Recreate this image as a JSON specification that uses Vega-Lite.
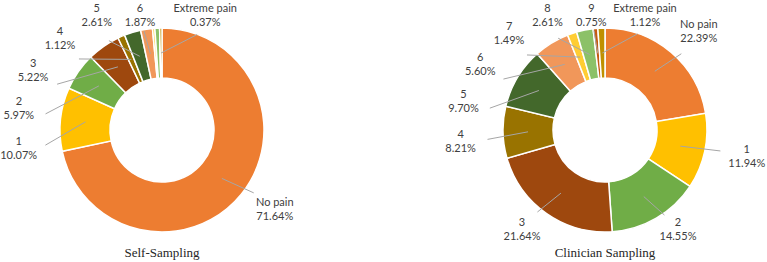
{
  "$schema": "https://vega.github.io/schema/vega-lite/v6.json",
  "padding": 0,
  "spacing": 119,
  "background": "white",
  "config": {"view": {"stroke": null}},
  "data": {
    "values": [
      {"chart": "Self-Sampling", "level": "No pain", "pct": 71.64},
      {"chart": "Self-Sampling", "level": "1", "pct": 10.07},
      {"chart": "Self-Sampling", "level": "2", "pct": 5.97},
      {"chart": "Self-Sampling", "level": "3", "pct": 5.22},
      {"chart": "Self-Sampling", "level": "4", "pct": 1.12},
      {"chart": "Self-Sampling", "level": "5", "pct": 2.61},
      {"chart": "Self-Sampling", "level": "6", "pct": 1.87},
      {"chart": "Self-Sampling", "level": "7", "pct": 0.37},
      {"chart": "Self-Sampling", "level": "8", "pct": 0.75},
      {"chart": "Self-Sampling", "level": "9", "pct": 0},
      {"chart": "Self-Sampling", "level": "Extreme pain", "pct": 0.37},
      {"chart": "Clinician Sampling", "level": "No pain", "pct": 22.39},
      {"chart": "Clinician Sampling", "level": "1", "pct": 11.94},
      {"chart": "Clinician Sampling", "level": "2", "pct": 14.55},
      {"chart": "Clinician Sampling", "level": "3", "pct": 21.64},
      {"chart": "Clinician Sampling", "level": "4", "pct": 8.21},
      {"chart": "Clinician Sampling", "level": "5", "pct": 9.70},
      {"chart": "Clinician Sampling", "level": "6", "pct": 5.60},
      {"chart": "Clinician Sampling", "level": "7", "pct": 1.49},
      {"chart": "Clinician Sampling", "level": "8", "pct": 2.61},
      {"chart": "Clinician Sampling", "level": "9", "pct": 0.75},
      {"chart": "Clinician Sampling", "level": "Extreme pain", "pct": 1.12}
    ]
  },
  "hconcat": [
    {
      "width": 324,
      "height": 260,
      "title": {"text": "Self-Sampling", "orient": "bottom", "offset": -13, "anchor": "middle", "font": "Liberation Serif", "fontSize": 13, "fontWeight": "normal", "color": "#262626"},
      "transform": [
        {"filter": "datum.chart === 'Self-Sampling'"},
        {"window": [{"op": "row_number", "as": "idx"}, {"op": "sum", "field": "pct", "as": "cum"}], "frame": [null, 0]},
        {"joinaggregate": [{"op": "sum", "field": "pct", "as": "total"}]},
        {"calculate": "(datum.cum - datum.pct / 2) / datum.total * 360", "as": "mid"}
      ],
      "layer": [
        {
          "mark": {"type": "arc", "innerRadius": 52, "outerRadius": 102, "stroke": "white", "strokeWidth": 1.5},
          "encoding": {
            "theta": {"field": "pct", "type": "quantitative", "stack": true},
            "order": {"field": "idx", "type": "quantitative"},
            "color": {
              "field": "level", "type": "nominal", "legend": null,
              "scale": {
                "domain": ["No pain", "1", "2", "3", "4", "5", "6", "7", "8", "9", "Extreme pain"],
                "range": ["#ED7D31", "#FFC000", "#70AD47", "#9E480E", "#997300", "#43682B", "#F1975A", "#FFCD33", "#8CC168", "#C55A11", "#BF9000"]
              }
            }
          }
        },
        {
          "transform": [
            {"filter": "!(datum.level === '7' || datum.level === '8' || datum.level === '9')"},
            {"window": [{"op": "row_number", "as": "k"}], "sort": [{"field": "idx"}]},
            {"joinaggregate": [{"op": "count", "as": "n"}]},
            {"calculate": "(datum.k === datum.n ? datum.mid + 18 : datum.mid) - datum.k * 18", "as": "t"},
            {"window": [{"op": "min", "field": "t", "as": "tmin"}], "sort": [{"field": "k"}], "frame": [0, null]},
            {"calculate": "(datum.tmin + datum.k * 18) * PI / 180", "as": "la"},
            {"calculate": "datum.mid * PI / 180", "as": "ma"},
            {"calculate": "145 * sin(datum.la)", "as": "lx"},
            {"calculate": "clamp(128 * cos(datum.la), -100, 114)", "as": "ly"},
            {"calculate": "118 * sin(datum.la)", "as": "ex"},
            {"calculate": "clamp(100 * cos(datum.la), -85, 100)", "as": "ey"},
            {"calculate": "77 * sin(datum.ma)", "as": "sx"},
            {"calculate": "77 * cos(datum.ma)", "as": "sy"},
            {"calculate": "datum.level + '\\n' + format(datum.pct, '.2f') + '%'", "as": "label"}
          ],
          "layer": [
            {
              "mark": {"type": "rule", "color": "#A6A6A6", "strokeWidth": 1},
              "encoding": {
                "x": {"field": "sx", "type": "quantitative", "scale": {"domain": [-162, 162], "nice": false, "zero": false}, "axis": null},
                "y": {"field": "sy", "type": "quantitative", "scale": {"domain": [-130, 130], "nice": false, "zero": false}, "axis": null},
                "x2": {"field": "ex"},
                "y2": {"field": "ey"}
              }
            },
            {
              "mark": {"type": "text", "font": "Lato", "fontSize": 11, "color": "#404040", "align": "center", "baseline": "middle", "dy": -7, "lineBreak": "\n", "lineHeight": 14},
              "encoding": {
                "x": {"field": "lx", "type": "quantitative", "scale": {"domain": [-162, 162], "nice": false, "zero": false}, "axis": null},
                "y": {"field": "ly", "type": "quantitative", "scale": {"domain": [-130, 130], "nice": false, "zero": false}, "axis": null},
                "text": {"field": "label"}
              }
            }
          ]
        }
      ]
    },
    {
      "width": 324,
      "height": 260,
      "title": {"text": "Clinician Sampling", "orient": "bottom", "offset": -13, "anchor": "middle", "font": "Liberation Serif", "fontSize": 13, "fontWeight": "normal", "color": "#262626"},
      "transform": [
        {"filter": "datum.chart === 'Clinician Sampling'"},
        {"window": [{"op": "row_number", "as": "idx"}, {"op": "sum", "field": "pct", "as": "cum"}], "frame": [null, 0]},
        {"joinaggregate": [{"op": "sum", "field": "pct", "as": "total"}]},
        {"calculate": "(datum.cum - datum.pct / 2) / datum.total * 360", "as": "mid"}
      ],
      "layer": [
        {
          "mark": {"type": "arc", "innerRadius": 52, "outerRadius": 102, "stroke": "white", "strokeWidth": 1.5},
          "encoding": {
            "theta": {"field": "pct", "type": "quantitative", "stack": true},
            "order": {"field": "idx", "type": "quantitative"},
            "color": {
              "field": "level", "type": "nominal", "legend": null,
              "scale": {
                "domain": ["No pain", "1", "2", "3", "4", "5", "6", "7", "8", "9", "Extreme pain"],
                "range": ["#ED7D31", "#FFC000", "#70AD47", "#9E480E", "#997300", "#43682B", "#F1975A", "#FFCD33", "#8CC168", "#C55A11", "#BF9000"]
              }
            }
          }
        },
        {
          "transform": [
            {"window": [{"op": "row_number", "as": "k"}], "sort": [{"field": "idx"}]},
            {"joinaggregate": [{"op": "count", "as": "n"}]},
            {"calculate": "(datum.k === datum.n ? datum.mid + 18 : datum.mid) - datum.k * 18", "as": "t"},
            {"window": [{"op": "min", "field": "t", "as": "tmin"}], "sort": [{"field": "k"}], "frame": [0, null]},
            {"calculate": "(datum.tmin + datum.k * 18) * PI / 180", "as": "la"},
            {"calculate": "datum.mid * PI / 180", "as": "ma"},
            {"calculate": "145 * sin(datum.la)", "as": "lx"},
            {"calculate": "clamp(128 * cos(datum.la), -100, 114)", "as": "ly"},
            {"calculate": "118 * sin(datum.la)", "as": "ex"},
            {"calculate": "clamp(100 * cos(datum.la), -85, 100)", "as": "ey"},
            {"calculate": "77 * sin(datum.ma)", "as": "sx"},
            {"calculate": "77 * cos(datum.ma)", "as": "sy"},
            {"calculate": "datum.level + '\\n' + format(datum.pct, '.2f') + '%'", "as": "label"}
          ],
          "layer": [
            {
              "mark": {"type": "rule", "color": "#A6A6A6", "strokeWidth": 1},
              "encoding": {
                "x": {"field": "sx", "type": "quantitative", "scale": {"domain": [-162, 162], "nice": false, "zero": false}, "axis": null},
                "y": {"field": "sy", "type": "quantitative", "scale": {"domain": [-130, 130], "nice": false, "zero": false}, "axis": null},
                "x2": {"field": "ex"},
                "y2": {"field": "ey"}
              }
            },
            {
              "mark": {"type": "text", "font": "Lato", "fontSize": 11, "color": "#404040", "align": "center", "baseline": "middle", "dy": -7, "lineBreak": "\n", "lineHeight": 14},
              "encoding": {
                "x": {"field": "lx", "type": "quantitative", "scale": {"domain": [-162, 162], "nice": false, "zero": false}, "axis": null},
                "y": {"field": "ly", "type": "quantitative", "scale": {"domain": [-130, 130], "nice": false, "zero": false}, "axis": null},
                "text": {"field": "label"}
              }
            }
          ]
        }
      ]
    }
  ]
}
